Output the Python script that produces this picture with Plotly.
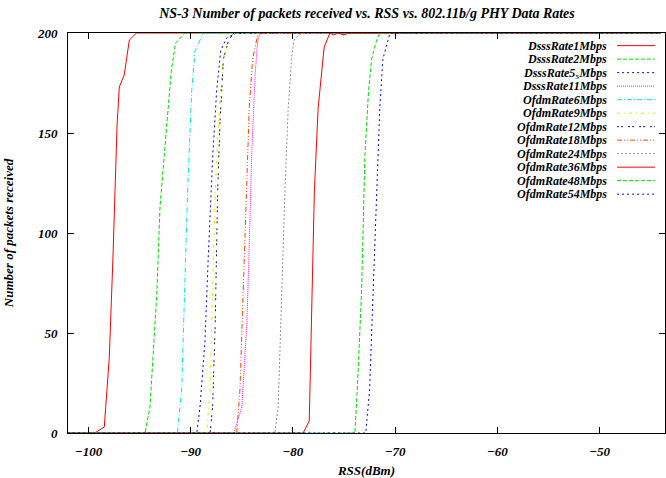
import plotly.graph_objects as go

# ---- data ----
series_names = ["DsssRate1Mbps", "DsssRate2Mbps", "DsssRate5\u2085Mbps", "DsssRate11Mbps",
                "OfdmRate6Mbps", "OfdmRate9Mbps", "OfdmRate12Mbps", "OfdmRate18Mbps",
                "OfdmRate24Mbps", "OfdmRate36Mbps", "OfdmRate48Mbps", "OfdmRate54Mbps"]

dsss1_x = [-102, -99.4, -98.45, -97.96, -97.6, -97.2, -96.98, -96.5, -96.0, -95.3, -44]
dsss1_y = [0, 0, 3, 38, 88, 154, 173, 179, 196.5, 200, 200]

dsss2_x = [-102, -94.47, -93.98, -93.3, -93.0, -92.35, -91.9, -91.47, -90.56, -44]
dsss2_y = [0, 0, 13, 71, 113, 154, 181, 195, 200, 200]

dsss55_x = [-102, -89.4, -89.09, -88.6, -88.28, -87.85, -87.46, -87.07, -86.5, -85.5, -44]
dsss55_y = [0, 0, 13, 46, 88, 138, 171, 191, 197.5, 200, 200]

dsss11_x = [-102, -85.77, -85.0, -84.5, -84.3, -84.04, -83.7, -83.45, -83.2, -44]
dsss11_y = [0, 0, 13, 55, 88, 138, 179, 196, 200, 200]

ofdm6_x = [-102, -91.3, -90.88, -90.56, -90.3, -89.9, -89.58, -88.77, -44]
ofdm6_y = [0, 0, 21.6, 71, 121, 171, 191, 200, 200]

ofdm9_x = [-102, -88.44, -88.1, -87.85, -87.6, -87.2, -86.8, -86.16, -44]
ofdm9_y = [0, 0, 21.6, 71, 121, 162.5, 187, 200, 200]

ofdm12_x = [-102, -88.1, -87.85, -87.6, -87.36, -87.14, -86.8, -86.3, -85.8, -44]
ofdm12_y = [0, 0, 13, 55, 121, 154, 187, 196, 200, 200]

ofdm18_x = [-102, -85.5, -85.18, -84.86, -84.6, -84.27, -83.94, -83.4, -44]
ofdm18_y = [0, 0, 21.6, 71, 121, 162.5, 187, 200, 200]

ofdm24_x = [-102, -81.76, -81.44, -81.1, -80.78, -80.46, -80.13, -79.9, -79.15, -44]
ofdm24_y = [0, 0, 13, 71, 121, 162.5, 187, 196.5, 200, 200]

ofdm36_x = [-102, -79.0, -78.4, -78.17, -77.9, -77.53, -77.36, -76.94, -76.38, -76.0, -75.6, -75.0, -74.6, -44]
ofdm36_y = [0, 0, 6, 55, 121, 162.5, 171, 193, 200, 199, 200, 199, 200, 200]

ofdm48_x = [-102, -73.94, -73.7, -73.28, -72.96, -72.6, -72.3, -71.8, -71.5, -44]
ofdm48_y = [0, 0, 21.6, 71, 138, 171, 187, 196.5, 200, 200]

ofdm54_x = [-102, -72.87, -72.5, -72.15, -71.8, -71.5, -71.2, -70.5, -44]
ofdm54_y = [0, 0, 21.6, 71, 121, 162.5, 187, 200, 200]

xs = [dsss1_x, dsss2_x, dsss55_x, dsss11_x, ofdm6_x, ofdm9_x, ofdm12_x, ofdm18_x,
      ofdm24_x, ofdm36_x, ofdm48_x, ofdm54_x]
ys = [dsss1_y, dsss2_y, dsss55_y, dsss11_y, ofdm6_y, ofdm9_y, ofdm12_y, ofdm18_y,
      ofdm24_y, ofdm36_y, ofdm48_y, ofdm54_y]

x_ticks = [-100, -90, -80, -70, -60, -50]
y_ticks = [0, 50, 100, 150, 200]

# ---- styles ----
colors = ["#ff0000", "#00e000", "#0000ff", "#ff00ff", "#00e8f0", "#e8e000",
          "#202020", "#ff4500", "#909090", "#ff0000", "#00e000", "#0000ff"]
dashes = ["solid", "4px,2px", "2px,3px", "1px,1px", "5px,2px,1px,2px", "3px,4px,1px,4px",
          "2px,2px,2px,5px", "5px,2px,1px,2px,1px,2px", "2px,2px", "solid", "4px,2px", "2px,3px"]

FONT = "Liberation Serif, Times New Roman, serif"

fig = go.Figure()
for name, x, y, c, d in zip(series_names, xs, ys, colors, dashes):
    fig.add_trace(go.Scatter(x=x, y=y, mode="lines", name=name,
                             line=dict(color=c, width=1, dash=d), showlegend=False))

# gnuplot-style legend: right-aligned text, sample to the right
L, R, T, B = 68, 666, 33, 435
W, H = R - L, B - T
row0, step = 45.7, 13.57
leg_font = dict(family=FONT, size=12, color="black", weight="bold", style="italic")
for i, (name, c, d) in enumerate(zip(series_names, colors, dashes)):
    py = row0 + i * step
    yp = (B - py) / H
    fig.add_annotation(x=(609 - L) / W, y=yp, xref="paper", yref="paper", text=name,
                       showarrow=False, xanchor="right", yanchor="middle", font=leg_font,
                       borderpad=0)
    fig.add_shape(type="line", xref="paper", yref="paper",
                  x0=(618 - L) / W, x1=(656 - L) / W, y0=yp, y1=yp,
                  line=dict(color=c, width=1, dash=d))

axis_font = dict(family=FONT, size=13, color="black", weight="bold", style="italic")
fig.update_layout(
    width=666, height=478,
    margin=dict(l=L, r=0, t=T, b=478 - B),
    paper_bgcolor="white", plot_bgcolor="white",
    title=dict(text="NS-3 Number of packets received vs. RSS vs. 802.11b/g PHY Data Rates",
               x=(L + R) / 2 / 666, xanchor="center", y=1 - 13 / 478, yanchor="middle",
               font=dict(family=FONT, size=14, color="black", weight="bold", style="italic")),
    xaxis=dict(range=[-102, -43.6], tickvals=x_ticks, ticks="inside", ticklen=6, tickcolor="black",
               showline=True, linecolor="black", linewidth=1, mirror="ticks", showgrid=False,
               zeroline=False, tickfont=axis_font, ticklabelstandoff=6,
               title=dict(text="RSS(dBm)", font=axis_font, standoff=10)),
    yaxis=dict(range=[0, 200], tickvals=y_ticks, ticks="inside", ticklen=6, tickcolor="black",
               showline=True, linecolor="black", linewidth=1, mirror="ticks", showgrid=False,
               zeroline=False, tickfont=axis_font, ticklabelstandoff=7,
               title=dict(text="Number of packets received", font=axis_font, standoff=20)),
)

fig.write_html("out.html")
